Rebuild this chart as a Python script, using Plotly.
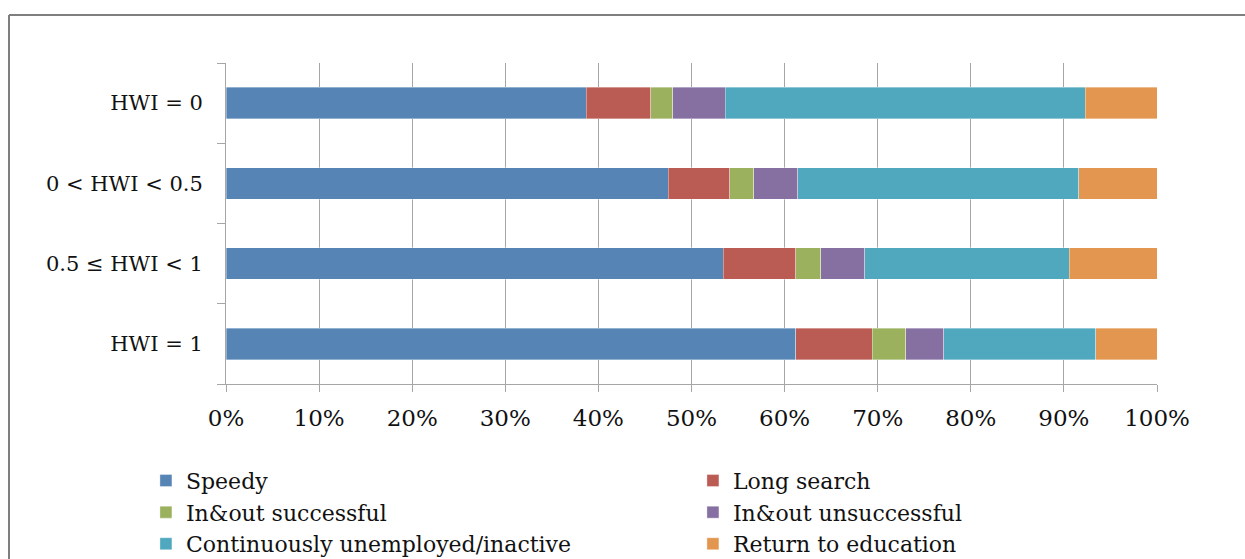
import plotly.graph_objects as go

categories = ["HWI = 0", "0 < HWI < 0.5", "0.5 ≤ HWI < 1", "HWI = 1"]
series_names = ["Speedy", "Long search", "In&out successful", "In&out unsuccessful",
                "Continuously unemployed/inactive", "Return to education"]
speedy = [38.7, 47.5, 53.4, 61.2]
long_search = [6.9, 6.6, 7.8, 8.2]
inout_succ = [2.4, 2.6, 2.7, 3.6]
inout_unsucc = [5.6, 4.7, 4.7, 4.1]
continuous = [38.7, 30.2, 22.0, 16.3]
return_edu = [7.7, 8.4, 9.4, 6.6]
x_ticks = [0, 10, 20, 30, 40, 50, 60, 70, 80, 90, 100]
x_tick_labels = [f"{v}%" for v in x_ticks]

colors = ["#5584B5", "#BA5C53", "#9BB15E", "#8670A1", "#50A8BF", "#E3964F"]
values = [speedy, long_search, inout_succ, inout_unsucc, continuous, return_edu]

FONT = "DejaVu Serif"
PW, PH = 931, 321

fig = go.Figure()
for name, vals, col in zip(series_names, values, colors):
    fig.add_trace(go.Bar(
        y=categories, x=vals, name=name, orientation="h",
        marker=dict(color=col, line=dict(color="rgba(255,255,255,0.6)", width=0.6)),
        width=0.39,
    ))

fig.update_layout(
    barmode="stack",
    width=1245, height=559,
    margin=dict(l=226, r=88, t=63, b=175, autoexpand=False),
    paper_bgcolor="white", plot_bgcolor="white",
    font=dict(family=FONT, color="#111111", size=20),
    showlegend=True,
    legend=dict(
        orientation="h", x=-0.086, y=-0.236, xanchor="left", yanchor="top",
        entrywidth=502, entrywidthmode="pixels",
        font=dict(family=FONT, size=22, color="#111111"),
        traceorder="normal", itemclick=False, tracegroupgap=0,
    ),
    shapes=[
        dict(type="line", xref="paper", yref="paper",
             x0=-(226 - 9) / PW, x1=(1245 - 226) / PW + 0.01,
             y0=(384 - 15) / PH, y1=(384 - 15) / PH,
             line=dict(color="#7f7f7f", width=2)),
        dict(type="line", xref="paper", yref="paper",
             x0=-(226 - 9) / PW, x1=-(226 - 9) / PW,
             y0=(384 - 15) / PH, y1=-(559 - 384 + 5) / PH,
             line=dict(color="#7f7f7f", width=2)),
    ],
)

fig.update_xaxes(
    range=[0, 100], tickvals=x_ticks, ticktext=x_tick_labels,
    showgrid=True, gridcolor="#a6a6a6", gridwidth=1,
    showline=True, linecolor="#a6a6a6", linewidth=1,
    ticks="outside", ticklen=7, tickcolor="#a6a6a6",
    zeroline=False, tickfont=dict(size=23, family=FONT),
    ticklabelstandoff=6,
    fixedrange=True,
)
fig.update_yaxes(
    categoryorder="array", categoryarray=categories[::-1],
    showgrid=False, showline=True, linecolor="#a6a6a6", linewidth=1,
    ticks="outside", ticklen=8, tickcolor="#a6a6a6", tickson="boundaries",
    tickfont=dict(size=21, family=FONT), ticklabelstandoff=18,
    fixedrange=True,
)

fig.write_html(
    "out.html",
    config={"displayModeBar": False},
    post_script="document.body.style.margin='0';document.body.style.overflow='hidden';",
)
